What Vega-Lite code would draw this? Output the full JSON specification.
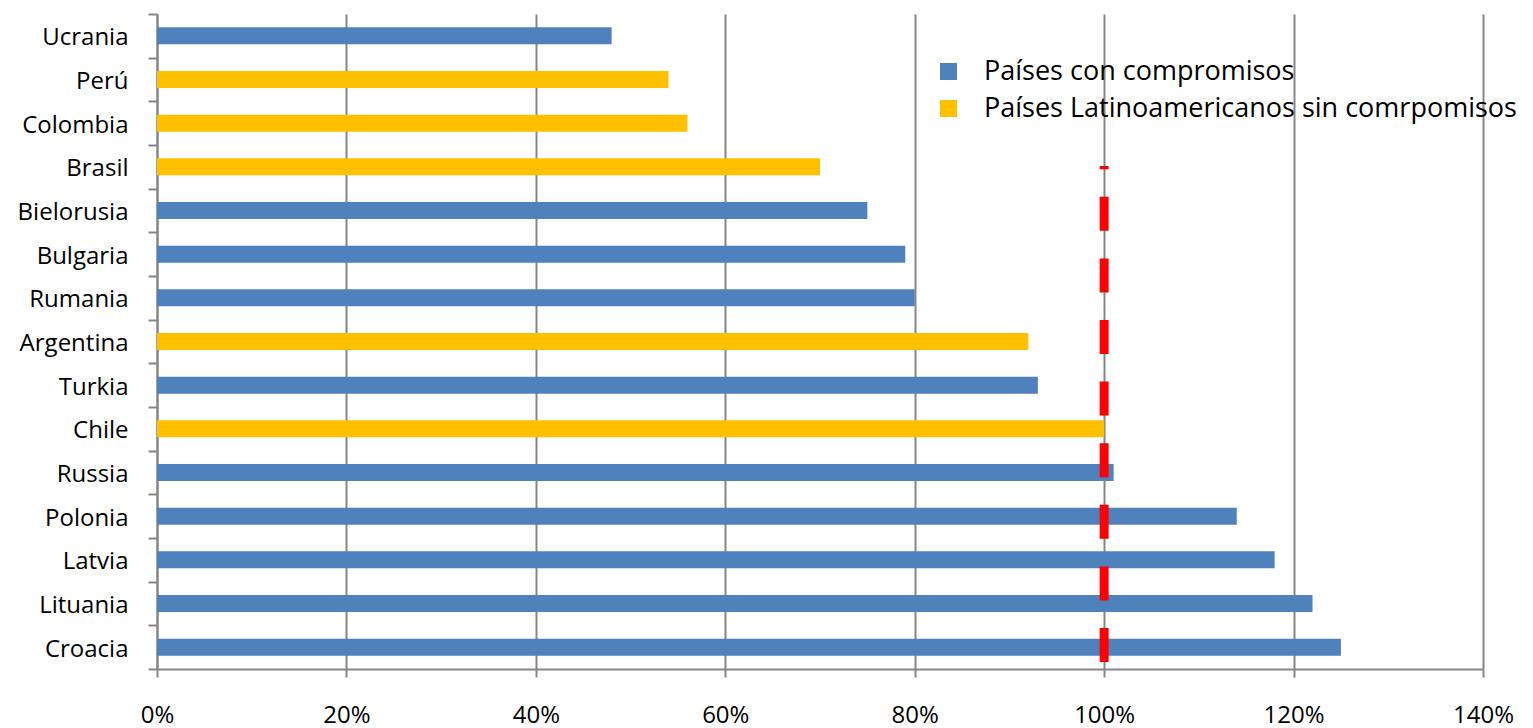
{
  "$schema": "https://vega.github.io/schema/vega-lite/v6.json",
  "width": 1326,
  "height": 655,
  "autosize": "none",
  "padding": {"left": 157, "top": 14, "right": 50, "bottom": 59},
  "background": "white",
  "config": {
    "view": {"stroke": null},
    "font": "Open Sans",
    "axis": {"labelFont": "Open Sans", "labelColor": "black"},
    "legend": {"labelFont": "Open Sans"}
  },
  "datasets": {
    "bars": [
      {"pais": "Ucrania", "valor": 0.48, "grupo": "Países con compromisos"},
      {"pais": "Perú", "valor": 0.54, "grupo": "Países Latinoamericanos sin comrpomisos"},
      {"pais": "Colombia", "valor": 0.56, "grupo": "Países Latinoamericanos sin comrpomisos"},
      {"pais": "Brasil", "valor": 0.70, "grupo": "Países Latinoamericanos sin comrpomisos"},
      {"pais": "Bielorusia", "valor": 0.75, "grupo": "Países con compromisos"},
      {"pais": "Bulgaria", "valor": 0.79, "grupo": "Países con compromisos"},
      {"pais": "Rumania", "valor": 0.80, "grupo": "Países con compromisos"},
      {"pais": "Argentina", "valor": 0.92, "grupo": "Países Latinoamericanos sin comrpomisos"},
      {"pais": "Turkia", "valor": 0.93, "grupo": "Países con compromisos"},
      {"pais": "Chile", "valor": 1.00, "grupo": "Países Latinoamericanos sin comrpomisos"},
      {"pais": "Russia", "valor": 1.01, "grupo": "Países con compromisos"},
      {"pais": "Polonia", "valor": 1.14, "grupo": "Países con compromisos"},
      {"pais": "Latvia", "valor": 1.18, "grupo": "Países con compromisos"},
      {"pais": "Lituania", "valor": 1.22, "grupo": "Países con compromisos"},
      {"pais": "Croacia", "valor": 1.25, "grupo": "Países con compromisos"}
    ],
    "meta": [
      {"x": 1.0, "y": 0.0107, "y2": 0.768}
    ]
  },
  "layer": [
    {
      "data": {"name": "bars"},
      "mark": {"type": "bar", "height": {"band": 0.39}},
      "encoding": {
        "y": {
          "field": "pais",
          "type": "nominal",
          "sort": null,
          "title": null,
          "scale": {"paddingInner": 0, "paddingOuter": 0},
          "axis": {
            "tickBand": "extent",
            "domainColor": "#868686",
            "domainWidth": 2,
            "tickColor": "#868686",
            "tickWidth": 2,
            "tickSize": 9,
            "labelFontSize": 24,
            "labelPadding": 20,
            "labelOffset": 2,
            "labelColor": "black"
          }
        },
        "x": {
          "field": "valor",
          "type": "quantitative",
          "title": null,
          "scale": {"domain": [0, 1.4], "nice": false},
          "axis": {
            "values": [0, 0.2, 0.4, 0.6, 0.8, 1.0, 1.2, 1.4],
            "format": ".0%",
            "grid": true,
            "gridColor": "#868686",
            "gridWidth": 2,
            "domainColor": "#868686",
            "domainWidth": 2,
            "tickColor": "#868686",
            "tickWidth": 2,
            "tickSize": 8,
            "labelFlush": false,
            "labelFontSize": 24,
            "labelPadding": 26,
            "labelColor": "black"
          }
        },
        "color": {
          "field": "grupo",
          "type": "nominal",
          "sort": ["Países con compromisos", "Países Latinoamericanos sin comrpomisos"],
          "scale": {
            "domain": ["Países con compromisos", "Países Latinoamericanos sin comrpomisos"],
            "range": ["#4F81BD", "#FFC000"]
          },
          "legend": {
            "title": null,
            "orient": "none",
            "legendX": 778,
            "legendY": 44,
            "symbolType": "square",
            "symbolSize": 289,
            "symbolStrokeWidth": 0,
            "labelFontSize": 27,
            "labelColor": "black",
            "labelOffset": 22,
            "rowPadding": 9,
            "labelLimit": 700
          }
        }
      }
    },
    {
      "data": {"name": "meta"},
      "mark": {"type": "rule", "color": "#FF0000", "strokeWidth": 9, "strokeDash": [34, 27.6], "strokeCap": "butt"},
      "encoding": {
        "x": {"field": "x", "type": "quantitative"},
        "y": {"field": "y", "type": "quantitative", "scale": {"domain": [0, 1], "nice": false, "zero": false}, "axis": null},
        "y2": {"field": "y2"}
      }
    }
  ],
  "resolve": {"scale": {"y": "independent"}, "axis": {"y": "independent"}}
}
